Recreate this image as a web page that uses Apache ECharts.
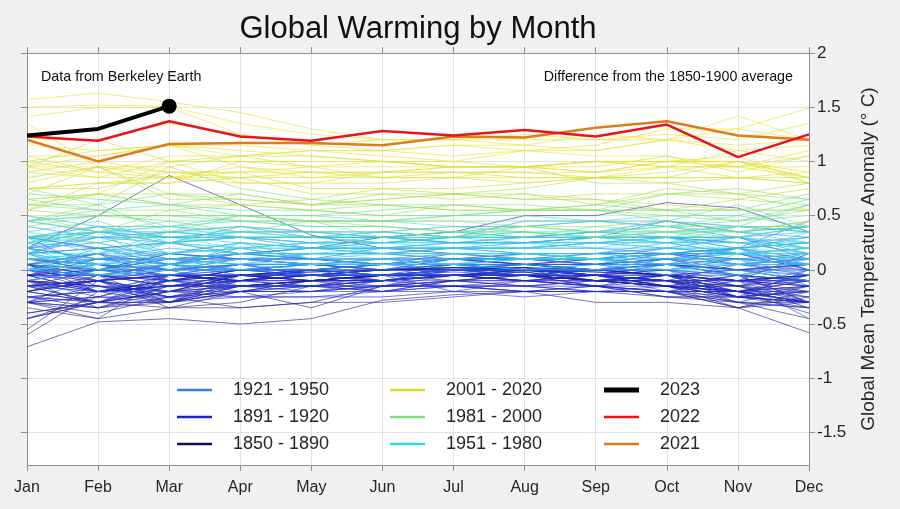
<!DOCTYPE html>
<html><head><meta charset="utf-8">
<script src="https://cdn.jsdelivr.net/npm/echarts@6/dist/echarts.min.js"></script>
<style>html,body{margin:0;padding:0;background:#f0f0f0}#c{width:900px;height:509px}</style>
</head><body><div id="c"></div><script>
const months = ['Jan','Feb','Mar','Apr','May','Jun','Jul','Aug','Sep','Oct','Nov','Dec'];
const yTicks = [-1.5,-1,-0.5,0,0.5,1,1.5,2];

// Monthly anomalies (°C vs 1850-1900), one row per year
const y1850_1890 = [
[-0.55,-0.1,-0.35,-0.3,-0.15,-0.1,-0.05,-0.05,-0.15,-0.1,-0.2,-0.3],
[-0.2,-0.05,-0.1,0.0,0.05,0.0,0.02,0.05,0.0,0.05,0.1,0.05],
[-0.1,-0.15,-0.2,-0.1,0.0,0.05,0.1,0.05,0.0,-0.05,-0.1,0.15],
[0.05,-0.2,-0.1,-0.05,-0.1,-0.05,0.0,-0.02,-0.1,-0.15,-0.25,-0.2],
[-0.15,-0.1,-0.05,-0.05,0.0,-0.05,0.0,0.02,-0.05,-0.1,-0.15,-0.1],
[-0.1,-0.25,-0.1,-0.05,-0.05,0.0,0.0,0.05,0.0,0.05,-0.05,-0.3],
[-0.2,-0.3,-0.3,-0.2,-0.15,-0.05,-0.05,-0.1,-0.15,-0.2,-0.35,-0.2],
[-0.3,-0.45,-0.35,-0.35,-0.3,-0.15,-0.1,-0.15,-0.2,-0.25,-0.3,-0.15],
[-0.25,-0.35,-0.3,-0.15,-0.1,-0.05,-0.1,-0.05,-0.1,-0.15,-0.35,-0.25],
[-0.15,0.0,-0.05,-0.1,-0.05,-0.1,-0.05,0.0,-0.1,-0.15,-0.25,-0.3],
[-0.2,-0.3,-0.35,-0.2,-0.1,-0.05,-0.05,-0.05,-0.1,-0.1,-0.3,-0.3],
[-0.6,-0.2,-0.3,-0.2,-0.35,-0.15,-0.1,-0.05,-0.1,-0.15,-0.15,-0.2],
[-0.71,-0.48,-0.45,-0.5,-0.45,-0.28,-0.23,-0.2,-0.3,-0.3,-0.35,-0.58],
[0.05,-0.05,-0.15,-0.1,-0.05,-0.1,-0.05,-0.05,-0.1,-0.1,-0.1,-0.05],
[-0.4,-0.3,-0.2,-0.15,-0.1,-0.1,-0.05,-0.05,-0.15,-0.25,-0.25,-0.35],
[-0.1,-0.35,-0.2,-0.05,-0.05,-0.05,0.0,0.02,0.0,-0.05,-0.1,-0.05],
[0.05,-0.1,-0.2,-0.05,0.0,0.05,0.05,0.0,-0.05,0.0,-0.05,-0.1],
[-0.3,-0.05,-0.3,-0.05,-0.05,0.0,0.0,0.0,-0.02,-0.05,-0.15,-0.35],
[-0.45,-0.25,-0.05,-0.05,-0.02,0.0,0.05,0.0,-0.02,-0.05,-0.1,-0.05],
[0.05,0.15,-0.1,0.0,-0.05,0.0,0.0,0.02,0.0,-0.05,-0.1,-0.15],
[-0.1,-0.2,-0.15,-0.05,0.0,0.0,0.02,0.0,-0.05,-0.1,-0.2,-0.4],
[-0.35,-0.45,-0.05,-0.05,-0.1,-0.05,0.0,-0.05,-0.1,-0.15,-0.3,-0.45],
[-0.2,-0.1,-0.2,-0.05,-0.02,0.0,0.02,0.0,-0.05,-0.05,-0.2,-0.25],
[-0.05,-0.2,-0.1,-0.1,-0.05,0.0,0.02,0.02,-0.05,-0.1,-0.15,-0.05],
[0.0,-0.2,-0.15,-0.15,-0.1,-0.05,-0.02,-0.05,-0.1,-0.1,-0.25,-0.3],
[-0.3,-0.4,-0.25,-0.2,-0.1,-0.05,-0.05,-0.1,-0.15,-0.2,-0.3,-0.35],
[-0.1,-0.15,-0.3,-0.15,-0.1,-0.1,-0.05,-0.05,-0.1,-0.05,-0.2,-0.3],
[-0.05,0.0,0.1,0.15,0.2,0.3,0.35,0.5,0.5,0.62,0.57,0.35],
[0.2,0.5,0.87,0.6,0.32,0.2,0.15,0.1,0.1,0.05,0.0,-0.1],
[-0.05,-0.05,-0.1,-0.05,-0.1,-0.05,-0.05,-0.02,-0.1,-0.05,-0.15,-0.3],
[0.0,-0.1,-0.05,-0.1,-0.1,-0.15,-0.05,0.0,-0.05,-0.15,-0.25,-0.15],
[-0.15,-0.1,0.0,0.0,0.0,-0.1,0.0,-0.05,-0.05,-0.15,-0.2,-0.1],
[0.1,0.05,0.0,-0.15,-0.1,-0.2,-0.1,-0.05,-0.05,-0.15,-0.15,-0.25],
[-0.25,-0.2,-0.15,-0.15,-0.1,-0.05,-0.05,-0.1,-0.15,-0.2,-0.2,-0.15],
[-0.2,-0.1,-0.25,-0.35,-0.3,-0.3,-0.25,-0.2,-0.2,-0.2,-0.35,-0.3],
[-0.45,-0.3,-0.2,-0.25,-0.25,-0.25,-0.2,-0.2,-0.15,-0.15,-0.2,-0.05],
[-0.3,-0.35,-0.25,-0.15,-0.15,-0.2,-0.1,-0.15,-0.1,-0.15,-0.2,-0.15],
[-0.4,-0.3,-0.2,-0.2,-0.2,-0.15,-0.15,-0.2,-0.2,-0.2,-0.25,-0.3],
[-0.3,-0.25,-0.3,-0.1,-0.05,-0.05,0.0,0.0,-0.05,0.05,0.0,0.0],
[-0.05,0.1,0.05,0.1,0.05,0.0,0.0,0.0,-0.05,-0.1,-0.1,-0.15],
[-0.1,-0.2,-0.15,-0.1,-0.15,-0.1,-0.1,-0.1,-0.05,-0.1,-0.2,-0.2]
];
const y1891_1920 = [
[-0.25,-0.2,-0.05,-0.1,-0.05,-0.05,-0.05,-0.02,0.0,-0.05,-0.25,0.0],
[-0.15,-0.1,-0.25,-0.15,-0.15,-0.1,-0.15,-0.1,-0.05,-0.1,-0.25,-0.3],
[-0.45,-0.3,-0.15,-0.15,-0.2,-0.1,-0.05,-0.1,-0.1,-0.05,-0.1,-0.2],
[-0.2,-0.1,-0.05,-0.05,-0.1,-0.1,-0.05,-0.05,-0.1,-0.05,-0.1,-0.1],
[-0.3,-0.35,-0.15,-0.05,-0.05,-0.05,0.0,0.0,0.0,-0.05,-0.05,-0.1],
[-0.05,-0.05,-0.15,-0.1,0.0,0.05,0.1,0.05,0.05,0.1,0.0,0.05],
[-0.05,0.0,0.0,0.1,0.05,0.05,0.05,0.05,0.0,0.05,-0.05,-0.1],
[0.05,-0.15,-0.25,-0.1,-0.1,-0.05,-0.05,-0.05,-0.05,-0.1,-0.2,-0.1],
[-0.05,-0.2,-0.1,0.0,0.0,-0.05,0.05,0.05,0.1,0.15,0.2,0.0],
[0.0,0.1,0.1,0.1,0.1,0.1,0.1,0.05,0.1,0.15,0.05,0.05],
[0.05,0.0,0.15,0.1,0.05,0.05,0.05,0.0,0.0,0.0,-0.1,-0.05],
[0.1,0.05,-0.05,-0.05,-0.1,-0.1,-0.05,-0.1,-0.05,-0.15,-0.2,-0.3],
[-0.05,0.05,-0.1,-0.15,-0.15,-0.2,-0.15,-0.2,-0.2,-0.2,-0.2,-0.3],
[-0.3,-0.25,-0.25,-0.2,-0.2,-0.15,-0.15,-0.15,-0.2,-0.15,-0.05,-0.15],
[-0.15,-0.3,-0.05,-0.1,-0.05,-0.05,-0.05,0.0,-0.05,-0.1,0.05,0.0],
[-0.05,-0.1,-0.05,0.05,-0.05,0.0,0.0,0.0,-0.05,0.0,-0.15,0.0],
[-0.15,-0.3,-0.1,-0.2,-0.2,-0.2,-0.15,-0.15,-0.15,-0.05,-0.25,-0.2],
[-0.15,-0.1,-0.3,-0.2,-0.15,-0.15,-0.15,-0.2,-0.15,-0.25,-0.25,-0.2],
[-0.3,-0.15,-0.25,-0.25,-0.25,-0.2,-0.2,-0.1,-0.1,-0.15,-0.05,-0.3],
[-0.15,-0.15,-0.2,-0.15,-0.15,-0.15,-0.1,-0.1,-0.15,-0.2,-0.3,-0.35],
[-0.25,-0.3,-0.3,-0.25,-0.2,-0.15,-0.15,-0.15,-0.1,-0.05,0.0,-0.05],
[-0.1,0.0,-0.1,0.0,0.0,-0.05,-0.2,-0.25,-0.2,-0.2,-0.1,-0.1],
[-0.1,-0.15,-0.15,-0.1,-0.15,-0.1,-0.05,-0.05,-0.05,-0.05,0.0,0.05],
[0.1,0.0,-0.05,0.0,0.05,0.05,0.1,0.1,0.05,0.15,0.1,0.1],
[0.0,0.15,0.05,0.15,0.1,0.05,0.15,0.1,0.1,0.05,0.0,0.05],
[0.0,-0.05,-0.15,-0.05,-0.05,-0.1,0.0,0.0,-0.05,-0.1,-0.2,-0.3],
[-0.15,-0.2,-0.2,-0.15,-0.15,-0.15,0.0,0.0,-0.05,-0.2,-0.1,-0.45],
[-0.25,-0.3,-0.1,-0.15,-0.15,-0.1,-0.05,-0.05,0.0,0.05,0.0,-0.1],
[0.0,-0.05,-0.05,0.05,-0.05,-0.05,-0.05,-0.05,0.0,0.0,-0.25,-0.2],
[0.0,-0.05,0.05,-0.05,-0.05,-0.05,0.0,0.05,0.05,-0.05,-0.1,-0.3]
];
const y1921_1950 = [
[0.15,-0.05,0.05,0.0,0.0,0.0,0.1,0.05,0.05,0.1,0.05,0.1],
[0.0,-0.1,0.05,0.0,-0.05,-0.05,0.0,-0.05,0.0,0.0,0.1,0.05],
[0.0,0.0,-0.05,-0.05,-0.05,0.0,0.05,0.0,0.0,0.1,0.2,0.1],
[0.05,-0.05,0.0,0.0,0.0,0.05,0.0,-0.05,0.0,0.0,0.05,-0.05],
[-0.1,0.0,0.1,0.05,0.05,0.0,0.05,0.1,0.05,0.05,0.2,0.25],
[0.3,0.2,0.25,0.15,0.1,0.05,0.1,0.15,0.15,0.15,0.15,0.0],
[0.1,0.05,0.0,0.05,0.05,0.05,0.1,0.1,0.1,0.2,0.15,0.0],
[0.2,0.1,0.0,0.05,0.05,0.0,0.1,0.1,0.05,0.1,0.15,0.1],
[-0.15,-0.2,-0.05,0.0,-0.05,-0.05,0.0,0.0,0.05,0.05,0.1,-0.15],
[0.05,0.1,0.15,0.1,0.05,0.1,0.1,0.15,0.15,0.2,0.3,0.2],
[0.2,0.1,0.1,0.1,0.1,0.2,0.2,0.15,0.1,0.15,0.1,0.15],
[0.3,0.0,0.05,0.2,0.1,0.05,0.1,0.1,0.15,0.15,0.05,0.1],
[0.0,0.05,0.0,0.05,0.0,-0.05,0.0,0.05,0.0,0.05,-0.05,-0.1],
[0.05,0.15,0.0,0.05,0.15,0.15,0.1,0.1,0.1,0.15,0.15,0.05],
[0.2,0.25,0.1,0.0,0.05,0.05,0.1,0.1,0.05,0.1,-0.05,0.05],
[0.05,0.0,0.15,0.1,0.1,0.1,0.15,0.15,0.1,0.15,0.15,0.2],
[0.15,0.2,0.05,0.15,0.2,0.2,0.2,0.25,0.3,0.3,0.25,0.15],
[0.2,0.3,0.35,0.3,0.2,0.15,0.2,0.2,0.25,0.3,0.3,0.1],
[0.15,0.2,0.1,0.15,0.15,0.15,0.2,0.2,0.2,0.15,0.2,0.45],
[0.15,0.3,0.25,0.3,0.3,0.35,0.3,0.3,0.35,0.3,0.3,0.4],
[0.3,0.35,0.3,0.35,0.35,0.3,0.35,0.3,0.3,0.45,0.4,0.35],
[0.4,0.3,0.3,0.3,0.3,0.3,0.25,0.25,0.3,0.3,0.25,0.3],
[0.15,0.35,0.25,0.3,0.25,0.25,0.3,0.3,0.35,0.45,0.35,0.4],
[0.45,0.35,0.35,0.4,0.35,0.35,0.4,0.4,0.45,0.45,0.35,0.3],
[0.3,0.2,0.25,0.4,0.3,0.3,0.3,0.45,0.45,0.4,0.3,0.15],
[0.25,0.2,0.15,0.25,0.1,0.05,0.1,0.1,0.15,0.1,0.1,-0.05],
[0.1,0.1,0.2,0.15,0.15,0.15,0.15,0.15,0.15,0.25,0.15,0.1],
[0.25,0.05,0.0,0.1,0.15,0.15,0.1,0.1,0.1,0.1,0.1,0.05],
[0.15,0.05,0.1,0.15,0.1,0.05,0.1,0.1,0.1,0.1,0.1,0.05],
[-0.1,0.0,0.1,0.05,0.05,0.1,0.05,0.0,0.05,0.0,-0.05,0.1]
];
const y1951_1980 = [
[0.0,-0.05,0.05,0.15,0.2,0.2,0.25,0.25,0.3,0.3,0.2,0.3],
[0.3,0.3,0.15,0.25,0.2,0.2,0.25,0.25,0.25,0.2,0.15,0.2],
[0.3,0.4,0.4,0.35,0.3,0.3,0.25,0.3,0.3,0.3,0.2,0.25],
[0.0,0.2,0.05,0.1,0.05,0.05,0.05,0.1,0.1,0.15,0.2,0.05],
[0.2,0.0,-0.05,0.05,0.05,0.1,0.05,0.15,0.1,0.05,-0.05,0.0],
[0.0,-0.05,0.0,0.0,0.0,0.05,0.05,0.05,0.0,0.05,0.05,0.1],
[0.1,0.15,0.15,0.2,0.25,0.3,0.25,0.3,0.3,0.25,0.3,0.35],
[0.5,0.4,0.3,0.3,0.3,0.25,0.3,0.25,0.25,0.3,0.3,0.25],
[0.3,0.25,0.35,0.3,0.25,0.25,0.25,0.25,0.2,0.2,0.2,0.25],
[0.25,0.35,0.0,0.25,0.2,0.2,0.2,0.2,0.25,0.25,0.15,0.35],
[0.3,0.4,0.3,0.3,0.3,0.3,0.25,0.25,0.3,0.25,0.25,0.2],
[0.3,0.35,0.3,0.25,0.2,0.25,0.2,0.2,0.25,0.25,0.25,0.25],
[0.2,0.4,0.15,0.2,0.2,0.25,0.3,0.35,0.35,0.4,0.35,0.25],
[0.2,0.1,0.05,0.0,0.05,0.05,0.05,0.0,0.0,0.0,0.0,-0.1],
[0.1,0.05,0.1,0.05,0.1,0.1,0.05,0.1,0.1,0.15,0.05,0.15],
[0.1,0.15,0.25,0.15,0.15,0.2,0.2,0.15,0.15,0.1,0.15,0.15],
[0.15,0.05,0.25,0.2,0.25,0.15,0.2,0.2,0.2,0.3,0.15,0.15],
[0.0,0.1,0.25,0.2,0.1,0.15,0.15,0.15,0.15,0.2,0.15,0.1],
[0.15,0.15,0.3,0.35,0.35,0.3,0.3,0.3,0.35,0.35,0.35,0.4],
[0.35,0.45,0.25,0.3,0.25,0.2,0.2,0.2,0.25,0.2,0.2,0.15],
[0.15,0.0,0.05,0.1,0.15,0.1,0.15,0.15,0.1,0.15,0.15,0.1],
[0.0,0.05,0.15,0.2,0.25,0.25,0.3,0.3,0.3,0.35,0.4,0.4],
[0.45,0.5,0.5,0.45,0.4,0.4,0.35,0.35,0.3,0.3,0.3,0.2],
[0.0,0.05,0.1,0.15,0.15,0.15,0.15,0.15,0.1,0.05,0.1,0.05],
[0.25,0.3,0.3,0.2,0.2,0.15,0.15,0.1,0.1,0.0,0.05,0.05],
[0.1,-0.05,0.0,0.1,0.05,0.05,0.1,0.1,0.1,-0.05,0.15,0.2],
[0.25,0.35,0.4,0.45,0.45,0.45,0.4,0.35,0.3,0.3,0.4,0.35],
[0.3,0.35,0.4,0.3,0.3,0.25,0.25,0.2,0.3,0.25,0.4,0.35],
[0.3,0.15,0.35,0.35,0.3,0.35,0.3,0.4,0.45,0.5,0.5,0.65],
[0.45,0.55,0.4,0.5,0.5,0.45,0.45,0.45,0.45,0.4,0.5,0.4]
];
const y1981_2000 = [
[0.65,0.55,0.6,0.5,0.45,0.45,0.5,0.5,0.45,0.4,0.45,0.6],
[0.25,0.35,0.25,0.35,0.35,0.3,0.35,0.3,0.4,0.35,0.4,0.6],
[0.7,0.65,0.6,0.55,0.55,0.5,0.5,0.55,0.55,0.45,0.6,0.4],
[0.45,0.35,0.45,0.35,0.45,0.3,0.35,0.4,0.35,0.35,0.25,0.2],
[0.35,0.25,0.35,0.4,0.35,0.35,0.3,0.35,0.3,0.35,0.3,0.4],
[0.45,0.5,0.45,0.45,0.4,0.4,0.35,0.4,0.35,0.4,0.4,0.4],
[0.45,0.6,0.35,0.5,0.5,0.55,0.6,0.55,0.6,0.55,0.55,0.7],
[0.75,0.6,0.7,0.65,0.6,0.6,0.55,0.55,0.55,0.55,0.45,0.55],
[0.4,0.5,0.5,0.5,0.45,0.45,0.5,0.55,0.55,0.5,0.45,0.5],
[0.6,0.6,0.95,0.75,0.65,0.6,0.6,0.6,0.55,0.7,0.75,0.65],
[0.65,0.7,0.6,0.7,0.6,0.7,0.7,0.65,0.65,0.55,0.55,0.55],
[0.6,0.55,0.55,0.45,0.45,0.4,0.35,0.35,0.3,0.35,0.35,0.45],
[0.55,0.5,0.5,0.5,0.45,0.45,0.45,0.4,0.4,0.45,0.35,0.45],
[0.5,0.35,0.55,0.6,0.55,0.6,0.55,0.55,0.6,0.7,0.7,0.65],
[0.85,0.95,0.7,0.7,0.6,0.65,0.7,0.7,0.6,0.75,0.7,0.55],
[0.55,0.7,0.6,0.6,0.55,0.5,0.6,0.55,0.55,0.55,0.65,0.6],
[0.6,0.7,0.7,0.6,0.65,0.75,0.7,0.75,0.85,0.85,0.85,0.85],
[0.95,1.2,1.0,1.05,1.05,1.0,0.95,0.95,0.8,0.8,0.7,0.8],
[0.7,0.95,0.65,0.65,0.6,0.65,0.7,0.65,0.7,0.7,0.65,0.75],
[0.55,0.8,0.8,0.85,0.7,0.7,0.65,0.7,0.65,0.6,0.55,0.55]
];
const y2001_2020 = [
[0.75,0.75,0.9,0.85,0.85,0.85,0.9,0.9,0.85,0.85,1.0,0.85],
[1.0,1.1,1.15,0.95,0.9,0.9,0.9,0.85,0.85,0.8,0.85,0.8],
[1.05,0.9,0.85,0.85,0.9,0.85,0.85,0.95,0.95,1.05,0.9,1.05],
[0.9,1.0,0.9,0.9,0.75,0.75,0.75,0.8,0.85,0.9,1.0,0.8],
[0.95,0.85,1.0,1.0,0.95,0.95,0.95,0.95,1.0,1.0,1.0,0.9],
[0.8,0.95,0.85,0.8,0.8,0.9,0.9,0.9,0.9,1.0,0.95,1.05],
[1.35,0.95,0.95,1.05,0.95,0.85,0.85,0.85,0.85,0.85,0.85,0.8],
[0.65,0.7,1.0,0.8,0.8,0.8,0.85,0.8,0.85,0.95,0.95,0.85],
[0.9,0.85,0.85,0.9,0.9,0.9,0.95,0.95,1.0,0.95,0.95,0.95],
[0.95,1.05,1.15,1.1,1.05,1.0,1.0,0.95,0.9,1.0,1.05,0.8],
[0.75,0.8,0.85,0.95,0.85,0.9,0.95,0.95,0.9,0.95,0.85,0.9],
[0.75,0.8,0.8,1.0,1.0,1.0,0.95,0.95,1.0,1.0,1.0,0.85],
[0.95,0.95,0.9,0.9,0.95,1.0,0.95,0.95,1.0,0.95,1.1,1.0],
[1.0,0.9,1.05,1.05,1.1,1.05,1.0,1.1,1.05,1.05,0.95,1.1],
[1.15,1.1,1.15,1.05,1.1,1.1,1.05,1.1,1.15,1.3,1.3,1.49],
[1.57,1.63,1.55,1.45,1.3,1.2,1.2,1.25,1.2,1.2,1.3,1.2],
[1.41,1.5,1.5,1.25,1.15,1.1,1.15,1.15,1.1,1.2,1.15,1.2],
[1.05,1.05,1.15,1.15,1.1,1.1,1.15,1.1,1.1,1.2,1.1,1.15],
[1.2,1.2,1.35,1.25,1.15,1.2,1.2,1.2,1.2,1.25,1.2,1.35],
[1.5,1.52,1.51,1.35,1.25,1.2,1.2,1.15,1.25,1.2,1.42,1.2]
];
const y2021 = [1.20,1.00,1.16,1.17,1.17,1.15,1.23,1.22,1.31,1.37,1.24,1.20];
const y2022 = [1.23,1.19,1.37,1.23,1.19,1.28,1.24,1.29,1.23,1.34,1.04,1.25];
const y2023 = [1.24,1.30,1.51];

const groups = [
  {start:1850, rows:y1850_1890},
  {start:1891, rows:y1891_1920},
  {start:1921, rows:y1921_1950},
  {start:1951, rows:y1951_1980},
  {start:1981, rows:y1981_2000},
  {start:2001, rows:y2001_2020}
];

// jet-like colour ramp by year (styling only)
const stops = [
  [1850,[25,25,110]],[1885,[30,30,170]],[1905,[30,30,215]],[1925,[30,90,230]],
  [1945,[30,150,240]],[1960,[40,200,235]],[1975,[60,222,215]],[1985,[100,222,140]],
  [1995,[165,222,80]],[2005,[222,222,40]],[2020,[238,226,40]]
];
function yearColor(y, a){
  let i = 0;
  while (i < stops.length-2 && y > stops[i+1][0]) i++;
  const [y0,c0] = stops[i], [y1,c1] = stops[i+1];
  const t = Math.max(0, Math.min(1, (y-y0)/(y1-y0)));
  const c = c0.map((v,k)=>Math.round(v+(c1[k]-v)*t));
  return `rgba(${c[0]},${c[1]},${c[2]},${a})`;
}

const FONT = "'Liberation Sans', Arial, Helvetica, sans-serif";
const TXT = '#262626';
const AX = '#8f8f8f';
const series = [];
groups.forEach(g => g.rows.forEach((row, i) => {
  const yr = g.start + i;
  series.push({type:'line', name:String(yr), data:row, symbol:'none', silent:true, z:2,
    lineStyle:{width:1, color:yearColor(yr, 0.6)}});
}));
const legendDefs = [
  ['1921 - 1950','#3a7ee6'],['1891 - 1920','#2222c0'],['1850 - 1890','#10105e'],
  ['2001 - 2020','#dcdc20'],['1981 - 2000','#80dc80'],['1951 - 1980','#30d8e0']
];
legendDefs.forEach(([n,c]) => series.push({type:'line', name:n, data:[], symbol:'none',
  lineStyle:{width:2.5, color:c}, itemStyle:{color:c}}));
series.push({type:'line', name:'2021', data:y2021, symbol:'none', z:5,
  lineStyle:{width:2.5, color:'#e07a1e'}, itemStyle:{color:'#e07a1e'}});
series.push({type:'line', name:'2022', data:y2022, symbol:'none', z:6,
  lineStyle:{width:2.5, color:'#e8141c'}, itemStyle:{color:'#e8141c'}});
series.push({type:'line', name:'2023', z:7, symbol:'none', showSymbol:true,
  data: y2023.map((v,i)=> i===y2023.length-1 ? {value:v, symbol:'circle', symbolSize:15} : v),
  lineStyle:{width:4, color:'#000'}, itemStyle:{color:'#000'}});

function mkLegend(left, top, names, h){
  return {orient:'vertical', left, top, data:names, icon:'rect', itemWidth:35, itemHeight:h,
    itemGap:9, selectedMode:false, padding:0,
    textStyle:{fontSize:18, lineHeight:18, color:TXT, fontFamily:FONT, padding:[0,0,0,16]}};
}

const axisLineStyle = {show:true, onZero:false, lineStyle:{color:AX, width:1}};
const tickStyle = {show:true, inside:false, length:6, lineStyle:{color:AX}};
const option = {
  backgroundColor:'#f0f0f0',
  animation:false,
  textStyle:{fontFamily:FONT},
  grid:{left:27, right:91, top:53, bottom:44, show:true, backgroundColor:'#ffffff', borderWidth:0},
  xAxis:[
    {type:'category', data:months, boundaryGap:false, position:'bottom',
     axisLine:axisLineStyle, axisTick:tickStyle,
     axisLabel:{color:TXT, fontSize:16, margin:15, fontFamily:FONT},
     splitLine:{show:true, lineStyle:{color:'#e2e2e2', width:1}}},
    {type:'category', data:months, boundaryGap:false, position:'top',
     axisLine:axisLineStyle, axisTick:tickStyle, axisLabel:{show:false}, splitLine:{show:false}}
  ],
  yAxis:[
    {type:'value', position:'right', min:-1.8, max:2,
     axisLine:axisLineStyle, axisTick:Object.assign({customValues:yTicks}, tickStyle),
     axisLabel:{customValues:yTicks, color:TXT, fontSize:17, margin:8, fontFamily:FONT},
     splitLine:{show:true, lineStyle:{color:'#e2e2e2', width:1}},
     name:'Global Mean Temperature Anomaly (° C)', nameLocation:'middle', nameRotate:90, nameGap:50,
     nameTextStyle:{fontSize:19, color:TXT, fontFamily:FONT}},
    {type:'value', position:'left', min:-1.8, max:2,
     axisLine:axisLineStyle, axisTick:Object.assign({customValues:yTicks}, tickStyle),
     axisLabel:{show:false}, splitLine:{show:false}}
  ],
  legend:[
    mkLegend(177, 381, ['1921 - 1950','1891 - 1920','1850 - 1890'], 2.5),
    mkLegend(390, 381, ['2001 - 2020','1981 - 2000','1951 - 1980'], 2.5),
    mkLegend(604, 381, ['2023'], 5),
    mkLegend(604, 408, ['2022','2021'], 2.5)
  ],
  graphic:[
    {type:'text', position:[418,29], z:10, style:{text:'Global Warming by Month', fill:'#111', font:`31px ${FONT}`, textAlign:'center', textVerticalAlign:'middle'}},
    {type:'text', position:[41,77], z:10, style:{text:'Data from Berkeley Earth', fill:'#111', font:`14.3px ${FONT}`, textAlign:'left', textVerticalAlign:'middle'}},
    {type:'text', position:[793,77], z:10, style:{text:'Difference from the 1850-1900 average', fill:'#111', font:`14.3px ${FONT}`, textAlign:'right', textVerticalAlign:'middle'}}
  ],
  series
};
const chart = echarts.init(document.getElementById('c'), null, {renderer:'canvas'});
chart.setOption(option);
</script></body></html>
